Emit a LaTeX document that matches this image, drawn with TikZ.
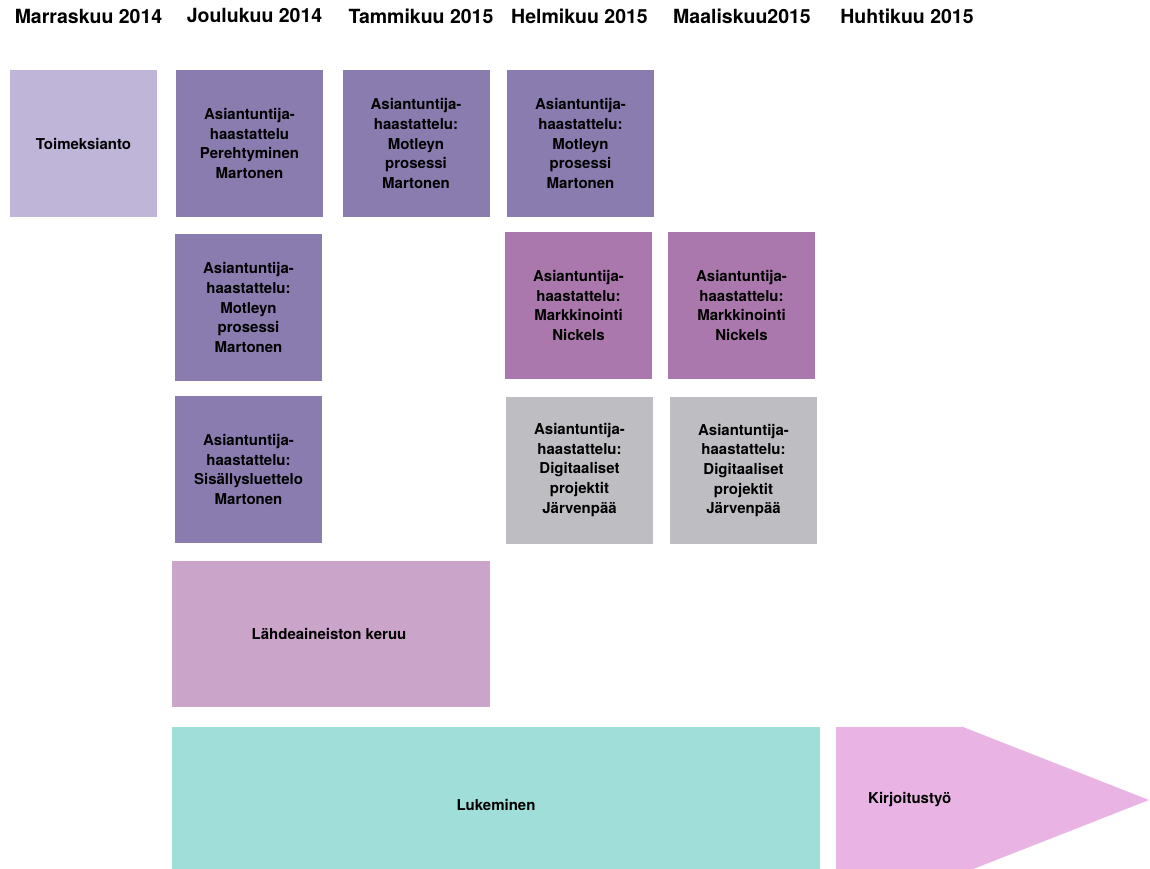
\documentclass[tikz,border=0pt]{standalone}
\usepackage{fontspec}
\setmainfont{TeX Gyre Heros}
\definecolor{cLight}{HTML}{BFB5D9}
\definecolor{cDark}{HTML}{8B7CB0}
\definecolor{cMag}{HTML}{AA78AC}
\definecolor{cGray}{HTML}{BEBDC2}
\definecolor{cLahde}{HTML}{CBA4CA}
\definecolor{cLuk}{HTML}{A0DED9}
\definecolor{cKir}{HTML}{E9B4E4}
\tikzset{
  hdr/.style={font=\fontsize{19.5}{22}\selectfont\bfseries, inner sep=0pt},
  box/.style={minimum width=147pt, minimum height=147pt, inner sep=0pt, text width=144pt, align=center,
    font=\fontsize{15}{19.7}\selectfont\bfseries},
  lbl/.style={font=\fontsize{15}{19.7}\selectfont\bfseries, inner sep=0pt}
}
\begin{document}
\begin{tikzpicture}[x=1pt,y=-1pt]
\useasboundingbox (0,0) rectangle (1150,869);
\clip (0,0) rectangle (1150,869);
% headers
\node[hdr] (h1) at (88.5,16) {Marraskuu 2014};
\node[hdr] (h2) at (254.5,16) {Joulukuu 2014};
\node[hdr] (h3) at (421,16) {Tammikuu 2015};
\node[hdr] (h4) at (579.5,16) {Helmikuu 2015};
\node[hdr] (h5) at (742,16) {Maaliskuu2015};
\node[hdr] (h6) at (907,16) {Huhtikuu 2015};
% row 1
\node[box, fill=cLight] (toim) at (83.5,143.5) {Toimeksianto};
\node[box, fill=cDark] (j1) at (249.5,143.5) {Asiantuntija-\\haastattelu\\Perehtyminen\\Martonen};
\node[box, fill=cDark] (t1) at (416,143.5) {Asiantuntija-\\haastattelu:\\Motleyn\\prosessi\\Martonen};
\node[box, fill=cDark] (he1) at (580.5,143.5) {Asiantuntija-\\haastattelu:\\Motleyn\\prosessi\\Martonen};
% row 2
\node[box, fill=cDark] (j2) at (248.5,307.5) {Asiantuntija-\\haastattelu:\\Motleyn\\prosessi\\Martonen};
\node[box, fill=cMag] (he2) at (578.5,305.5) {Asiantuntija-\\haastattelu:\\Markkinointi\\Nickels};
\node[box, fill=cMag] (m2) at (741.5,305.5) {Asiantuntija-\\haastattelu:\\Markkinointi\\Nickels};
% row 3
\node[box, fill=cDark] (j3) at (248.5,469.5) {Asiantuntija-\\haastattelu:\\Sisällysluettelo\\Martonen};
\node[box, fill=cGray] (he3) at (579.5,470) {Asiantuntija-\\haastattelu:\\Digitaaliset\\projektit\\Järvenpää};
\node[box, fill=cGray] (m3) at (743.5,470.5) {Asiantuntija-\\haastattelu:\\Digitaaliset\\projektit\\Järvenpää};
% Lähdeaineisto
\fill[cLahde] (172,561) rectangle (490,707);
\node[lbl] (lahde) at (329,634) {Lähdeaineiston keruu};
% Lukeminen
\fill[cLuk] (172,727) rectangle (820,869);
\node[lbl] (luk) at (496,805) {Lukeminen};
% Kirjoitustyö arrow
\fill[cKir] (836,727) -- (963,727) -- (1149,800) -- (963,873) -- (836,873) -- cycle;
\node[lbl, anchor=west] (kir) at (868,800) {Kirjoitustyö};
\end{tikzpicture}
\end{document}
